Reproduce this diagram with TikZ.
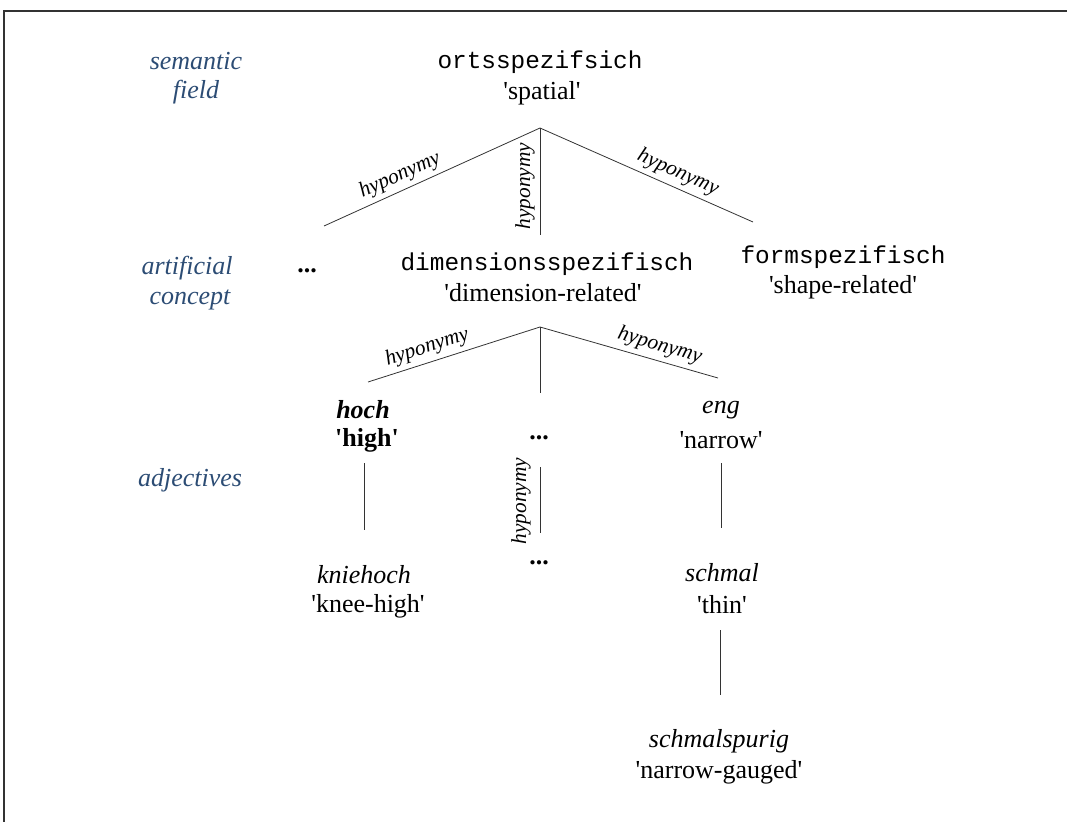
\documentclass[tikz,border=0pt]{standalone}
\usepackage{fontspec}
\setmainfont{Liberation Serif}
\setmonofont{Liberation Mono}
\newcommand{\sq}{\textquotesingle}
\definecolor{tierblue}{RGB}{44,76,116}
\tikzset{
  x=0.75pt, y=-0.75pt,
  word/.style={inner sep=0pt, anchor=center, font=\fontsize{19.5}{22}\selectfont},
  mono/.style={inner sep=0pt, anchor=center, font=\fontsize{18.3}{20}\ttfamily},
  tier/.style={inner sep=0pt, anchor=center, text=tierblue, font=\fontsize{19.5}{22}\selectfont\itshape},
  rel/.style={inner sep=0pt, font=\fontsize{16}{18}\selectfont\itshape},
  link/.style={draw=black!80, line width=0.6pt},
  frameline/.style={draw=black!80, line width=1.2pt}
}
\begin{document}
\begin{tikzpicture}
\useasboundingbox (0,0) rectangle (1067,821);
\draw[frameline] (4,830) -- (4,11) -- (1075,11);

% tier labels
\node[tier] (t1a) at (196,61) {semantic};
\node[tier] (t1b) at (196,92) {field};
\node[tier] (t2a) at (187,268) {artificial};
\node[tier] (t2b) at (190,300) {concept};
\node[tier] (t3) at (190,480) {adjectives};

% semantic field
\node[mono] (orts) at (540,62) {ortsspezifsich};
\node[word] (spatial) at (542,93) {\sq spatial\sq};

% artificial concepts
\node[word, font=\fontsize{19.5}{22}\selectfont\bfseries] (dotsA) at (307,271) {...};
\node[mono] (dim) at (547,264) {dimensionsspezifisch};
\node[word] (dimg) at (543,293) {\sq dimension-related\sq};
\node[mono] (form) at (843,257) {formspezifisch};
\node[word] (formg) at (843,287) {\sq shape-related\sq};

% adjectives
\node[word, font=\fontsize{19.5}{22}\selectfont\bfseries\itshape] (hoch) at (363,410) {hoch};
\node[word, font=\fontsize{19.5}{22}\selectfont\bfseries] (high) at (367,440) {\sq high\sq};
\node[word, font=\fontsize{19.5}{22}\selectfont\bfseries] (dotsB) at (539,438) {...};
\node[word, font=\fontsize{19.5}{22}\selectfont\itshape] (eng) at (721,410) {eng};
\node[word] (narrow) at (721,440) {\sq narrow\sq};

\node[word, font=\fontsize{19.5}{22}\selectfont\itshape] (knie) at (364,575) {kniehoch};
\node[word] (kneehigh) at (368,606) {\sq knee-high\sq};
\node[word, font=\fontsize{19.5}{22}\selectfont\bfseries] (dotsC) at (539,563) {...};
\node[word, font=\fontsize{19.5}{22}\selectfont\itshape] (schmal) at (722,573) {schmal};
\node[word] (thin) at (722,605) {\sq thin\sq};
\node[word, font=\fontsize{19.5}{22}\selectfont\itshape] (spurig) at (719,741) {schmalspurig};
\node[word] (gauged) at (719,772) {\sq narrow-gauged\sq};

% branching points and branch ends
\coordinate (top) at (540,128);
\coordinate (topL) at (324,226);
\coordinate (topM) at (540,235);
\coordinate (topR) at (753,222);
\coordinate (mid) at (540,327);
\coordinate (midL) at (368,382);
\coordinate (midM) at (540,393);
\coordinate (midR) at (718,378);

\draw[link] (top) -- node[rel, sloped, above=3.5pt, pos=0.62] {hyponymy} (topL);
\draw[link] (top) -- (topM);
\node[rel, rotate=90] (hv1) at (525,186) {hyponymy};
\draw[link] (top) -- node[rel, sloped, above=3.5pt, pos=0.62] {hyponymy} (topR);

\draw[link] (mid) -- node[rel, sloped, above=3.5pt, pos=0.63] {hyponymy} (midL);
\draw[link] (mid) -- (midM);
\draw[link] (mid) -- node[rel, sloped, above=3.5pt, pos=0.65] {hyponymy} (midR);

% vertical hyponymy links
\coordinate (hochA) at (364,463);
\coordinate (hochB) at (364,530);
\draw[link] (hochA) -- (hochB);
\coordinate (dotsA1) at (540,467);
\coordinate (dotsA2) at (540,533);
\draw[link] (dotsA1) -- (dotsA2);
\node[rel, rotate=90] (hv2) at (521,501) {hyponymy};
\coordinate (engA) at (721,463);
\coordinate (engB) at (721,528);
\draw[link] (engA) -- (engB);
\coordinate (thinA) at (720,630);
\coordinate (thinB) at (720,695);
\draw[link] (thinA) -- (thinB);
\end{tikzpicture}
\end{document}
